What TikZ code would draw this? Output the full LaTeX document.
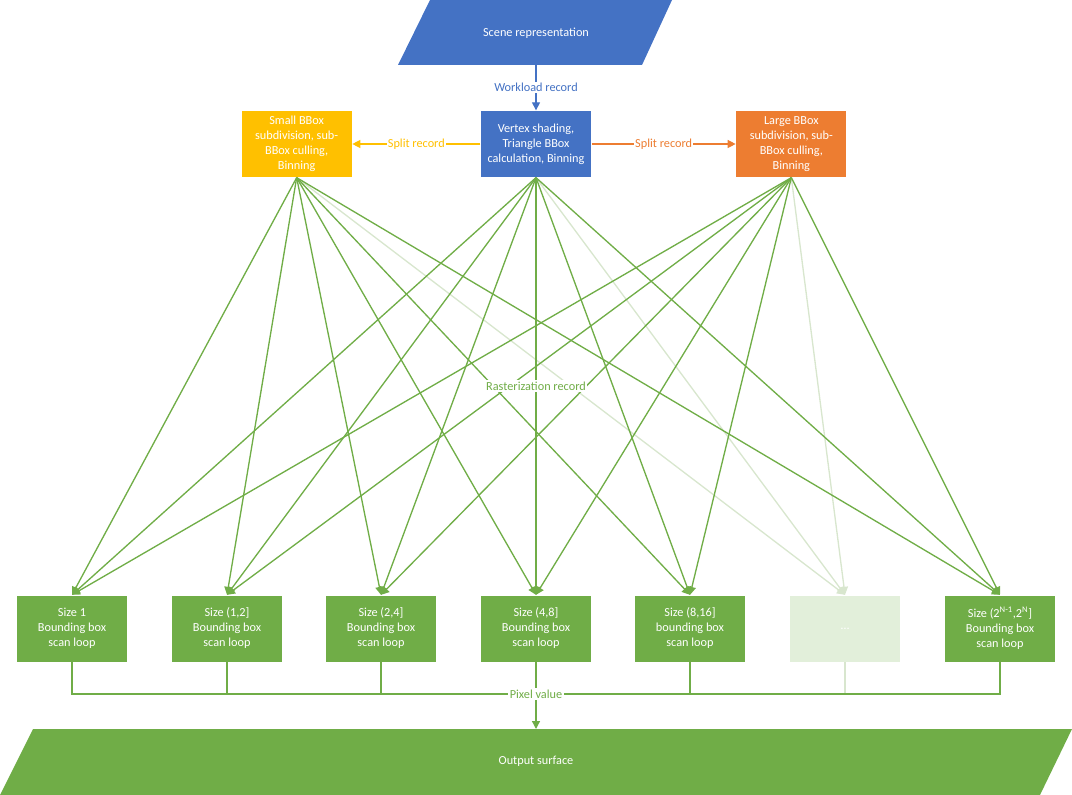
\documentclass[tikz,border=0pt]{standalone}
\usepackage{fontspec}
\setmainfont{Carlito}
\usetikzlibrary{arrows.meta,positioning}
\definecolor{msblue}{HTML}{4472C4}
\definecolor{msyellow}{HTML}{FFC000}
\definecolor{msorange}{HTML}{ED7D31}
\definecolor{msgreen}{HTML}{70AD47}
\definecolor{palegreen}{HTML}{E2EFDA}
\definecolor{faintgreen}{HTML}{D8E6CE}
\newcommand\boxfont{\fontsize{9.2}{11.25}\selectfont}
\tikzset{
	x=0.75pt, y=-0.75pt,
	every path/.style = {line width=1pt},
	>={Triangle[length=6pt,width=6pt]},
	box/.style = {rectangle, minimum width=82.5pt, minimum height=49.5pt, inner sep=1pt, align=center, text=white, font=\boxfont},
	boxtext/.style = {text=white, font=\boxfont, inner sep=0pt},
	tag/.style = {fill=white, inner sep=1pt, font=\boxfont}
}

\begin{document}
\begin{tikzpicture}
	\useasboundingbox (0,0) rectangle (1072,795);
	% scene representation
	\fill[msblue] (430,0) -- (672,0) -- (642,65) -- (398,65) -- cycle;
	\node[boxtext] (scene) at (536,33) {Scene representation};
	\coordinate (scenebot) at (536,65);
	% binning stage
	\node[box, fill=msblue] (vertex) at (536,144) {Vertex shading,\\Triangle BBox\\calculation, Binning};
	\node[box, fill=msyellow, left=96pt of vertex] (small) {Small BBox\\subdivision, sub-\\BBox culling,\\Binning};
	\node[box, fill=msorange, right=108pt of vertex] (large) {Large BBox\\subdivision, sub-\\BBox culling,\\Binning};
	\draw[->, msblue] (scenebot) -- node[tag, text=msblue] {Workload record} (vertex);
	\draw[->, msyellow] (vertex) -- node[tag, text=msyellow] {Split record} (small);
	\draw[->, msorange] (vertex) -- node[tag, text=msorange] {Split record} (large);
	% scan loops
	\foreach \n/\x/\t in {1/72/{Size 1\\Bounding box\\scan loop},
		2/227/{Size (1,2]\\Bounding box\\scan loop},
		3/381/{Size (2,4]\\Bounding box\\scan loop},
		4/536/{Size (4,8]\\Bounding box\\scan loop},
		5/690/{Size (8,16]\\bounding box\\scan loop},
		7/1000/{Size (2\textsuperscript{N-1},2\textsuperscript{N}]\\Bounding box\\scan loop}}
		\node[box, fill=msgreen] (b\n) at (\x,628.5) {\t};
	\node[box, fill=palegreen] (b6) at (845,628.5) {\dots};
	% rasterization records
	\foreach \s in {small,vertex,large}
		\draw[->, faintgreen] (\s.south) -- (b6.north);
	\foreach \s in {small,vertex,large}
		\foreach \n in {1,2,3,4,5,7}
			\draw[->, msgreen] (\s.south) -- (b\n.north);
	\node[tag, text=msgreen] (raster) at (536,386) {Rasterization record};
	% output
	\fill[msgreen] (33,729) -- (1072,729) -- (1040,795) -- (0,795) -- cycle;
	\node[boxtext] (output) at (536,761) {Output surface};
	\coordinate (bus) at (536,694);
	\coordinate (outtop) at (536,729);
	\draw[faintgreen] (b6.south) |- (bus);
	\foreach \n in {1,2,3,4,5,7}
		\draw[msgreen] (b\n.south) |- (bus);
	\draw[->, msgreen] (bus) -- (outtop);
	\node[tag, text=msgreen] (pixel) at (bus) {Pixel value};
\end{tikzpicture}
\end{document}
